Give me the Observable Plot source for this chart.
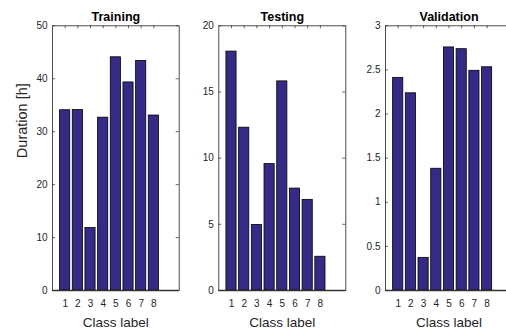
<!DOCTYPE html>
<html>
<head>
<meta charset="utf-8">
<script src="https://cdn.jsdelivr.net/npm/d3@7"></script>
<script src="https://cdn.jsdelivr.net/npm/@observablehq/plot@0.6"></script>
<style>
  html, body { margin: 0; padding: 0; background: white; }
  #chart { position: relative; width: 506px; height: 330px; overflow: hidden; background: white; }
  #chart svg { position: absolute; left: 0; top: 0; }
</style>
</head>
<body>
<div id="chart"></div>
<script>
const classes = [1, 2, 3, 4, 5, 6, 7, 8];
const training = [34.05, 34.1, 11.8, 32.65, 44.05, 39.3, 43.35, 33.05];
const testing = [18.05, 12.3, 4.95, 9.55, 15.8, 7.7, 6.85, 2.55];
const validation = [2.41, 2.235, 0.37, 1.38, 2.755, 2.735, 2.49, 2.53];

const titles = ["Training", "Testing", "Validation"];
const yTicksTraining = [0, 10, 20, 30, 40, 50];
const yTicksTesting = [0, 5, 10, 15, 20];
const yTicksValidation = [0, 0.5, 1, 1.5, 2, 2.5, 3];

const W = 512, H = 330;
const marginTop = 25.3, marginBottom = 40;
const barColor = "#352a87";
const axisColor = "#262626";
const font = "'Liberation Sans', Arial, Helvetica, sans-serif";

const panels = [
  {title: titles[0], values: training, yTicks: yTicksTraining, yMax: 50, left: 52, right: 178.7, ylabel: "Duration [h]"},
  {title: titles[1], values: testing, yTicks: yTicksTesting, yMax: 20, left: 218.3, right: 345.3},
  {title: titles[2], values: validation, yTicks: yTicksValidation, yMax: 3, left: 385, right: 512}
];

const chart = document.getElementById("chart");

for (const p of panels) {
  const data = classes.map((c, i) => ({cls: c, v: p.values[i]}));
  const plotW = p.right - p.left;
  const plotH = H - marginTop - marginBottom;
  const tickLen = 3;
  const marks = [
    Plot.rectY(data, {
      x1: d => d.cls - 0.4, x2: d => d.cls + 0.4, y1: 0, y2: "v",
      fill: barColor, stroke: "black", strokeWidth: 0.8
    }),
    // inward ticks (left, right, top)
    Plot.tickY(p.yTicks, {y: d => d, insetRight: plotW - tickLen, stroke: axisColor, strokeWidth: 0.7}),
    Plot.tickY(p.yTicks, {y: d => d, insetLeft: plotW - tickLen, stroke: axisColor, strokeWidth: 0.7}),
    Plot.tickX(classes, {x: d => d, insetBottom: plotH - tickLen, stroke: axisColor, strokeWidth: 0.7}),
    Plot.frame({stroke: "#3a3a3a", strokeWidth: 0.9}),
    Plot.ruleY([0], {stroke: "#333", strokeWidth: 1.3}),
    Plot.axisY({ticks: p.yTicks, tickSize: 0, tickPadding: 5, tickFormat: d => String(d), fontSize: 10, label: null, anchor: "left"}),
    Plot.axisX({ticks: classes, tickSize: 0, tickPadding: 9, tickFormat: d => String(d), fontSize: 10, label: null, anchor: "bottom"}),
    Plot.text([p.title], {text: d => d, frameAnchor: "top", lineAnchor: "bottom", dy: -4.5, fontSize: 12.5, fontWeight: "bold", fill: "black"}),
    Plot.text(["Class label"], {text: d => d, frameAnchor: "bottom", lineAnchor: "bottom", dy: 36, fontSize: 13.5, fill: "#262626"})
  ];
  if (p.ylabel) {
    marks.push(Plot.text([p.ylabel], {text: d => d, frameAnchor: "left", lineAnchor: "bottom", rotate: -90, dx: -25.5, fontSize: 14.5, fill: "#262626"}));
  }
  const svg = Plot.plot({
    width: W,
    height: H,
    marginTop,
    marginBottom,
    marginLeft: p.left,
    marginRight: W - p.right,
    x: {type: "linear", domain: [0, 10], axis: null},
    y: {domain: [0, p.yMax], axis: null},
    style: {background: "transparent", fontFamily: font, color: "#262626", maxWidth: "none", overflow: "visible"},
    marks
  });
  chart.appendChild(svg);
}
</script>
</body>
</html>
